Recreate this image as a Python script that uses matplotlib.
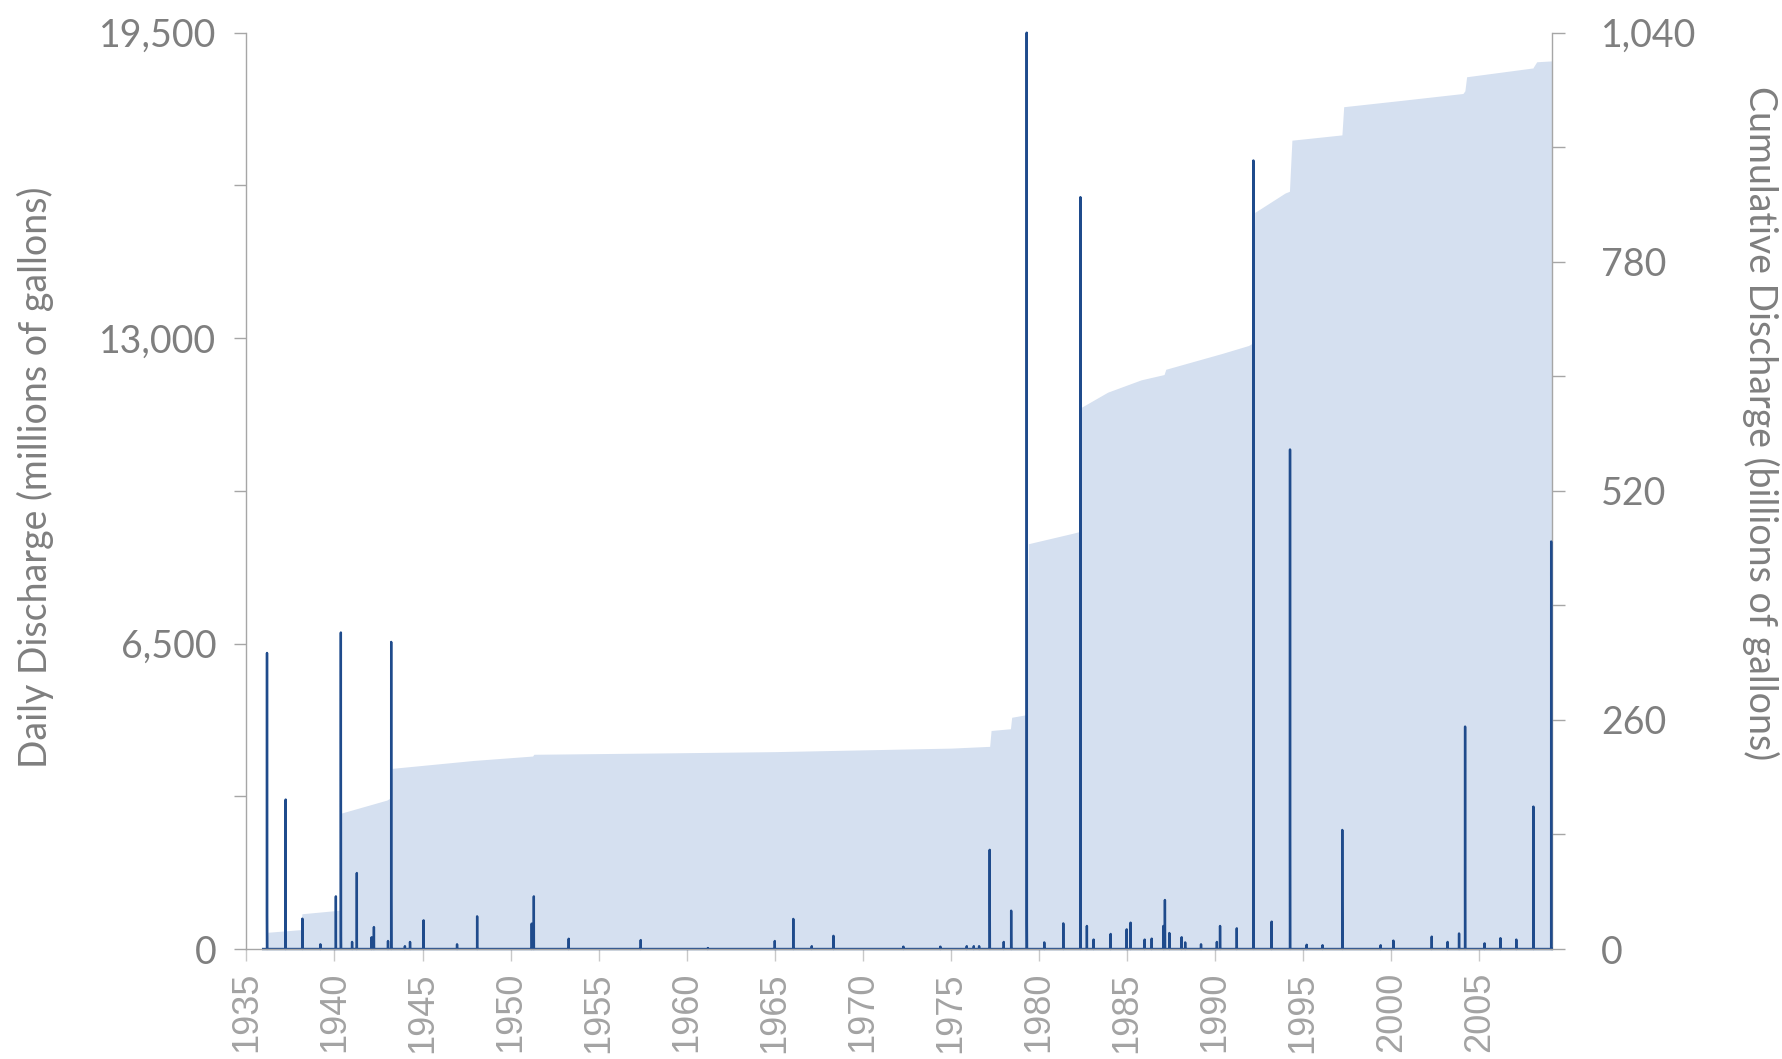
import matplotlib
matplotlib.use("Agg")
import matplotlib.pyplot as plt

# Cumulative discharge (billions of gallons) at decimal-year breakpoints
cum_years = [1935.95, 1936.15, 1936.22, 1938.10, 1938.15, 1940.28, 1940.34,
             1942.97, 1943.22, 1943.26, 1947.90, 1951.25, 1951.32, 1958.50,
             1965.00, 1970.00, 1975.00, 1977.20, 1977.28, 1978.38, 1978.45,
             1979.30, 1979.40, 1981.95, 1982.33, 1982.42, 1983.90, 1985.80,
             1987.10, 1987.20, 1990.40, 1991.90, 1992.15, 1992.25, 1993.97,
             1994.22, 1994.36, 1997.20, 1997.30, 2000.50, 2004.07, 2004.18,
             2004.28, 2008.05, 2008.07, 2008.26, 2009.11]
cum_values = [0, 2, 19, 22, 40, 44, 154,
              169, 172, 205, 214, 219, 221, 222.5,
              224, 226, 228, 230, 248, 250, 263,
              266, 460, 472, 474, 615, 632, 646,
              652, 658, 676, 685, 688, 836, 858,
              860, 918, 924, 956, 963, 971, 974,
              990, 1000, 1001, 1007, 1008]

# Daily discharge (millions of gallons): event start dates and daily flows
event_years = [1936.17, 1937.23, 1938.18, 1939.20, 1940.08, 1940.36, 1941.00,
               1941.27, 1942.11, 1942.24, 1943.04, 1943.22, 1944.00, 1944.29,
               1945.06, 1946.96, 1948.10, 1951.20, 1951.32, 1953.30, 1957.39,
               1961.20, 1965.00, 1966.05, 1967.10, 1968.33, 1972.30, 1974.40,
               1975.90, 1976.30, 1976.60, 1977.20, 1978.00, 1978.42, 1979.30,
               1980.30, 1981.38, 1982.35, 1982.72, 1983.10, 1984.07, 1984.98,
               1985.20, 1986.00, 1986.40, 1987.06, 1987.15, 1987.40, 1988.10,
               1988.30, 1989.20, 1990.10, 1990.28, 1991.23, 1992.17, 1993.21,
               1994.25, 1995.20, 1996.10, 1997.22, 1999.40, 2000.12, 2002.30,
               2003.20, 2003.85, 2004.19, 2005.30, 2006.20, 2007.10, 2008.07,
               2009.08]
event_flows = [
    [6300, 700, 300, 150], [3180, 200], [645, 300, 150], [100],
    [1120, 200], [4370, 6735, 4370, 1200, 400, 250, 150], [150],
    [1617, 200], [250, 120], [467, 150], [170], [6535, 1177, 300, 150],
    [60], [150, 80], [610, 100], [100], [695, 80], [540, 200], [1120, 300],
    [218], [190], [20], [170, 60], [640], [60], [280], [50], [50],
    [60], [60], [60], [990, 2110, 990, 300, 150], [150], [815, 300, 150],
    [3250, 19500, 12600, 3250, 1610, 550, 300, 150],
    [140], [545, 150], [960, 16000, 960, 400, 200], [490, 150], [200],
    [320], [418], [560, 150], [200], [220], [490, 200], [1043, 490, 200],
    [340], [250], [140], [100], [150], [490, 150], [440, 150],
    [1575, 16780, 11400, 1575, 400, 200], [582, 150],
    [2390, 10630, 2390, 310, 150], [90], [80], [2533, 985, 300, 150],
    [80], [178, 80], [263, 80], [150], [330], [1150, 4733, 1150, 300],
    [120], [230], [200], [3030, 150], [8672],
]
record_start, record_end = 1935.95, 2009.11

year_ticks = list(range(1935, 2010, 5))
left_ticks = [0, 3250, 6500, 9750, 13000, 16250, 19500]
left_labels = ["0", "", "6,500", "", "13,000", "", "19,500"]
right_ticks = [0, 130, 260, 390, 520, 650, 780, 910, 1040]
right_labels = ["0", "", "260", "", "520", "", "780", "", "1,040"]

# Assemble the daily series: zero flow between listed events
DAY = 1.0 / 365.25
t, q = [record_start], [0.0]
for yr, flows in zip(event_years, event_flows):
    t.append(yr - DAY)
    q.append(0.0)
    for k, f in enumerate(flows):
        t.append(yr + k * DAY)
        q.append(f)
    t.append(yr + len(flows) * DAY)
    q.append(0.0)
t.append(record_end)
q.append(0.0)

GREY_TXT = "#7F7F7F"
GREY_X = "#A3A3A3"
GREY_LINE = "#A6A6A6"
FILL = "#D5E0F0"
NAVY = "#1F4B8C"

fig = plt.figure(figsize=(17.83, 10.59), dpi=100)
ax = fig.add_axes([246.4 / 1783, 1 - 949 / 1059, 1305.3 / 1783, 916.3 / 1059])
ax2 = ax.twinx()
ax.set_zorder(ax2.get_zorder() + 1)
ax.patch.set_visible(False)

ax2.fill_between(cum_years, cum_values, 0, color=FILL, lw=0)
ax.plot(t, q, color=NAVY, lw=1.7, solid_joinstyle="round", clip_on=False)

ax.set_xlim(1935, 2009.11)
ax.set_ylim(0, 19500)
ax2.set_ylim(0, 1040)

for s in ("top", "right"):
    ax.spines[s].set_visible(False)
for s in ("top", "left", "bottom"):
    ax2.spines[s].set_visible(False)
ax.spines["left"].set_color(GREY_LINE)
ax.spines["bottom"].set_color(GREY_LINE)
ax2.spines["right"].set_color(GREY_LINE)
for sp in (ax.spines["left"], ax.spines["bottom"], ax2.spines["right"]):
    sp.set_linewidth(1.0)

ax.set_yticks(left_ticks)
ax.set_yticklabels(left_labels)
ax2.set_yticks(right_ticks)
ax2.set_yticklabels(right_labels)
ax.set_xticks(year_ticks)
ax.set_xticklabels([str(y) for y in year_ticks], rotation=90)

ax.tick_params(axis="y", length=8.5, width=1, color=GREY_LINE, pad=13,
               labelsize=27, labelcolor=GREY_TXT)
ax2.tick_params(axis="y", length=9.4, width=1, color=GREY_LINE, pad=26,
                labelsize=27, labelcolor=GREY_TXT)
ax.tick_params(axis="x", length=8.6, width=1, color="#C8C8C8", pad=8,
               labelsize=26, labelcolor=GREY_X)
for lab in ax.get_yticklabels() + ax2.get_yticklabels():
    lab.set_fontfamily("Lato")
for lab in ax.get_xticklabels():
    lab.set_fontfamily("Liberation Sans")

ax.text(-0.162, 0.515, "Daily Discharge (millions of gallons)",
        transform=ax.transAxes, rotation=90, ha="center", va="center",
        fontsize=27, color=GREY_TXT, family="Lato")
ax.text(1.160, 0.574, "Cumulative Discharge (billions of gallons)",
        transform=ax.transAxes, rotation=270, ha="center", va="center",
        fontsize=27, color=GREY_TXT, family="Lato")

fig.savefig("out.png", dpi=100, facecolor="white")
